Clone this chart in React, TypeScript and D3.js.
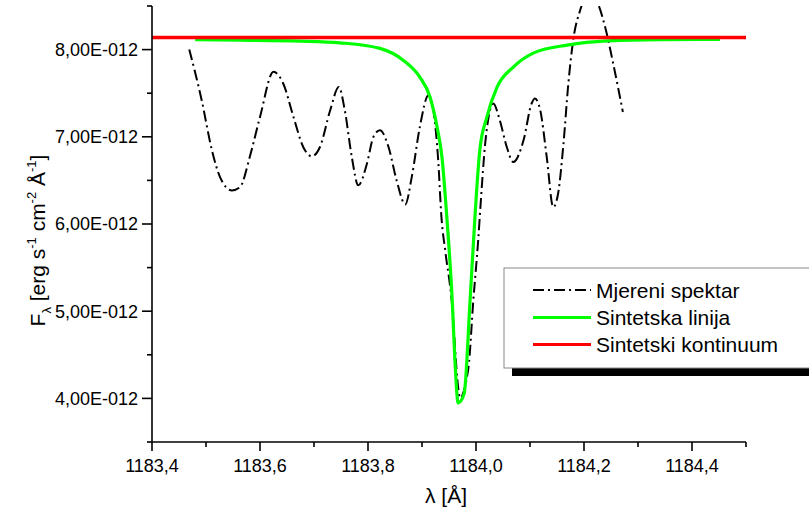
import React from "react";
import * as d3 from "d3";

// ---- data (flux in units of 1e-12 erg s^-1 cm^-2 Å^-1) ----
const measuredLambda = [
  1183.469, 1183.492, 1183.511, 1183.526, 1183.548, 1183.563, 1183.581, 1183.6, 1183.625, 1183.643,
  1183.662, 1183.68, 1183.696, 1183.711, 1183.73, 1183.746, 1183.757, 1183.77, 1183.782, 1183.798,
  1183.81, 1183.822, 1183.838, 1183.853, 1183.869, 1183.881, 1183.896, 1183.912, 1183.921, 1183.93,
  1183.936, 1183.943, 1183.955, 1183.967, 1183.97, 1183.986, 1183.995, 1184.004, 1184.009, 1184.017,
  1184.026, 1184.032, 1184.044, 1184.057, 1184.069, 1184.088, 1184.103, 1184.109, 1184.119, 1184.131,
  1184.143, 1184.152, 1184.162, 1184.171, 1184.18, 1184.193, 1184.211, 1184.228, 1184.239, 1184.254,
  1184.272,
];
const measuredFlux = [
  8.002, 7.42, 6.845, 6.538, 6.385, 6.423, 6.768, 7.228, 7.745, 7.611,
  7.228, 6.883, 6.776, 6.883, 7.305, 7.572, 7.305, 6.768, 6.443, 6.692,
  6.998, 7.075, 6.883, 6.5, 6.224, 6.538, 7.113, 7.477, 7.305, 6.73,
  6.078, 5.695, 5.121, 4.124, 4.006, 4.354, 5.121, 5.81, 6.27, 6.922,
  7.305, 7.382, 7.19, 6.883, 6.71, 6.96, 7.382, 7.439, 7.305, 6.768,
  6.193, 6.347, 6.922, 7.611, 8.109, 8.454, 8.661, 8.492, 8.262, 7.841,
  7.285,
];
const lineLambda = [
  1183.48, 1183.563, 1183.674, 1183.748, 1183.822, 1183.865, 1183.896, 1183.915, 1183.928, 1183.937,
  1183.946, 1183.956, 1183.961, 1183.967, 1183.978, 1183.989, 1183.998, 1184.007, 1184.02, 1184.039,
  1184.069, 1184.106, 1184.169, 1184.243, 1184.341, 1184.452,
];
const lineFlux = [
  8.115, 8.109, 8.098, 8.078, 8.014, 7.879, 7.684, 7.454, 7.109, 6.764,
  6.075, 5.121, 4.431, 3.948, 4.052, 5.121, 6.075, 6.845, 7.224, 7.569,
  7.799, 7.96, 8.052, 8.101, 8.115, 8.117,
];
const continuumLambda = [1183.4, 1184.5];
const continuumFlux = [8.14, 8.14];

const xMajorTicks = [1183.4, 1183.6, 1183.8, 1184.0, 1184.2, 1184.4];
const xTickLabels = ["1183,4", "1183,6", "1183,8", "1184,0", "1184,2", "1184,4"];
const xMinorTicks = [1183.5, 1183.7, 1183.9, 1184.1, 1184.3, 1184.5];
const yMajorTicks = [4, 5, 6, 7, 8];
const yTickLabels = ["4,00E-012", "5,00E-012", "6,00E-012", "7,00E-012", "8,00E-012"];
const yMinorTicks = [3.5, 4.5, 5.5, 6.5, 7.5, 8.5];
const legendLabels = ["Mjereni spektar", "Sintetska linija", "Sintetski kontinuum"];

const FONT = "'Liberation Sans', Arial, Helvetica, sans-serif";
const GREEN = "#00ff00";
const RED = "#ff0000";

export default function App() {
  const L = 152, R = 746, T = 6, B = 442;
  const x = d3.scaleLinear().domain([1183.4, 1184.5]).range([L, R]);
  const y = d3.scaleLinear().domain([3.5, 8.5]).range([B, T]);

  const mk = (lx: number[], fy: number[], curve: any) =>
    d3.line<number>().x((_, i) => x(lx[i])).y((_, i) => y(fy[i])).curve(curve)(lx.map((_, i) => i)) || "";

  const measuredPath = mk(measuredLambda, measuredFlux, d3.curveMonotoneX);
  const linePath = mk(lineLambda, lineFlux, d3.curveMonotoneX);
  const contPath = mk(continuumLambda, continuumFlux, d3.curveLinear);

  const legX = 504, legY = 268, legW = 330, legH = 100;
  const sampleY = [290, 317.5, 344.5];
  const textY = [298, 325, 352];

  return (
    <svg width={809} height={513} style={{ position: "absolute", left: 0, top: 0, background: "#fff" }}
      fontFamily={FONT}>
      <defs>
        <clipPath id="plot">
          <rect x={L} y={T} width={R - L} height={B - T} />
        </clipPath>
      </defs>

      <g clipPath="url(#plot)">
        <path d={measuredPath} fill="none" stroke="#000" strokeWidth={2} strokeDasharray="11,4,2,4" />
        <path d={linePath} fill="none" stroke={GREEN} strokeWidth={3.2} strokeLinejoin="round" />
        <path d={contPath} fill="none" stroke={RED} strokeWidth={3.5} />
      </g>

      {/* axes */}
      <line x1={L} x2={L} y1={T} y2={B} stroke="#000" strokeWidth={1.6} />
      <line x1={L} x2={R} y1={B} y2={B} stroke="#000" strokeWidth={1.6} />
      {yMajorTicks.map((v, i) => (
        <g key={"ym" + v}>
          <line x1={L - 10} x2={L} y1={y(v)} y2={y(v)} stroke="#000" strokeWidth={1.6} />
          <text x={L - 14} y={y(v)} dy="0.36em" textAnchor="end" fontSize={18} fill="#000">{yTickLabels[i]}</text>
        </g>
      ))}
      {yMinorTicks.map((v) => (
        <line key={"yn" + v} x1={L - 5} x2={L} y1={y(v)} y2={y(v)} stroke="#000" strokeWidth={1.6} />
      ))}
      {xMajorTicks.map((v, i) => (
        <g key={"xm" + v}>
          <line x1={x(v)} x2={x(v)} y1={B} y2={B + 9} stroke="#000" strokeWidth={1.6} />
          <text x={x(v)} y={472} textAnchor="middle" fontSize={18} fill="#000">{xTickLabels[i]}</text>
        </g>
      ))}
      {xMinorTicks.map((v) => (
        <line key={"xn" + v} x1={x(v)} x2={x(v)} y1={B} y2={B + 5} stroke="#000" strokeWidth={1.6} />
      ))}

      {/* axis titles */}
      <text x={(L + R) / 2 - 3} y={503} textAnchor="middle" fontSize={21} fill="#000">λ [Å]</text>
      <text transform="translate(45,240.5) rotate(-90)" textAnchor="middle" fontSize={21} fill="#000">
        <tspan>F</tspan>
        <tspan fontSize={13} dy={6}>λ</tspan>
        <tspan dy={-6}> [erg s</tspan>
        <tspan fontSize={13} dy={-9}>-1</tspan>
        <tspan dy={9}> cm</tspan>
        <tspan fontSize={13} dy={-9}>-2</tspan>
        <tspan dy={9}> Å</tspan>
        <tspan fontSize={13} dy={-9}>-1</tspan>
        <tspan dy={9}>]</tspan>
      </text>

      {/* legend */}
      <rect x={legX + 8} y={legY + 8} width={legW} height={legH} fill="#000" />
      <rect x={legX} y={legY} width={legW} height={legH} fill="#fff" stroke="#888" strokeWidth={1} />
      <line x1={533} x2={591} y1={sampleY[0]} y2={sampleY[0]} stroke="#000" strokeWidth={2} strokeDasharray="11,4,2,4" />
      <line x1={533} x2={591} y1={sampleY[1]} y2={sampleY[1]} stroke={GREEN} strokeWidth={3} />
      <line x1={533} x2={591} y1={sampleY[2]} y2={sampleY[2]} stroke={RED} strokeWidth={3} />
      {legendLabels.map((t, i) => (
        <text key={t} x={596} y={textY[i]} fontSize={21} fill="#000">{t}</text>
      ))}
    </svg>
  );
}
